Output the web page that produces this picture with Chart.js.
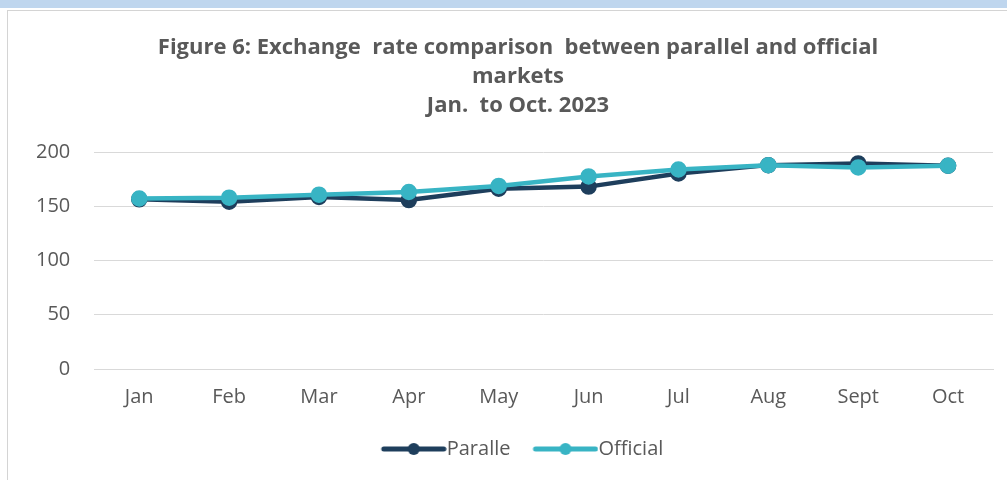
<!DOCTYPE html>
<html lang="en">
<head>
  <meta charset="UTF-8">
  <title>Exchange rate comparison</title>
  <script src="https://cdn.jsdelivr.net/npm/chart.js"></script>
  <style>
    html, body {
      margin: 0;
      padding: 0;
      width: 1007px;
      height: 480px;
      overflow: hidden;
      background: #fff;
      font-family: "Open Sans", sans-serif;
    }
    .band {
      position: absolute;
      left: 0; top: 0;
      width: 1007px; height: 8px;
      background: #bfd6ee;
    }
    .panel {
      position: absolute;
      left: 7px; top: 10px;
      width: 1030px; height: 480px;
      border-left: 1px solid #d4d4d4;
      border-top: 1px solid #d4d4d4;
    }
    .wrap {
      position: absolute;
      left: 8px; top: 11px;
      width: 1020px; height: 480px;
    }
  </style>
</head>
<body>
<div class="band"></div>
<div class="panel"></div>
<div class="wrap"><canvas id="rateChart"></canvas></div>

<script>
  const months = ['Jan', 'Feb', 'Mar', 'Apr', 'May', 'Jun', 'Jul', 'Aug', 'Sept', 'Oct'];
  const parallel = [156.5, 154.2, 158.6, 155.8, 166.2, 168.2, 180.3, 188.0, 189.6, 187.4];
  const official = [157.2, 158.0, 160.8, 163.2, 168.8, 177.6, 184.0, 188.0, 185.9, 187.4];
  const yTicks = [0, 50, 100, 150, 200];

  const navy = '#1e3e5c';
  const teal = '#38b4c4';
  const grey = '#595959';

  // legend marker: line with a dot, shifted right so it runs up to the text
  const MARK_W = 64, MARK_X = 10;
  function legendMarker(color) {
    const c = document.createElement('canvas');
    c.width = MARK_W + 2 * MARK_X; c.height = 14;
    const g = c.getContext('2d');
    const x0 = MARK_X + 11, x1 = c.width - 3;
    g.strokeStyle = color;
    g.fillStyle = color;
    g.lineWidth = 5;
    g.lineCap = 'round';
    g.beginPath();
    g.moveTo(x0, 7); g.lineTo(x1, 7);
    g.stroke();
    g.beginPath();
    g.arc((x0 + x1) / 2, 7, 6, 0, Math.PI * 2);
    g.fill();
    return c;
  }

  // title and legend are centred on the whole panel, not the padded area
  const centerBlocks = {
    id: 'centerBlocks',
    afterLayout(chart) {
      [chart.titleBlock, chart.legend].forEach(b => {
        if (b) { b.left = 0; b.right = chart.width; }
      });
    }
  };

  const ctx = document.getElementById('rateChart').getContext('2d');

  new Chart(ctx, {
    type: 'line',
    data: {
      labels: months,
      datasets: [
        {
          label: 'Paralle',
          data: parallel,
          borderColor: navy,
          backgroundColor: navy,
          borderWidth: 4.5,
          pointRadius: 6,
          pointHoverRadius: 6,
          tension: 0,
          order: 2
        },
        {
          label: 'Official',
          data: official,
          borderColor: teal,
          backgroundColor: teal,
          borderWidth: 4.5,
          pointRadius: 6,
          pointHoverRadius: 6,
          tension: 0,
          order: 1
        }
      ]
    },
    options: {
      responsive: true,
      maintainAspectRatio: false,
      animation: false,
      layout: { padding: { left: 4, right: 35, top: 0, bottom: 22 } },
      scales: {
        x: {
          offset: true,
          grid: { display: false, drawTicks: false },
          border: { display: true, color: '#d9d9d9', width: 1 },
          ticks: { color: grey, font: { family: 'Open Sans', size: 20 }, padding: 16 }
        },
        y: {
          min: 0,
          max: 200,
          afterBuildTicks: axis => { axis.ticks = yTicks.map(v => ({ value: v })); },
          grid: { color: '#d9d9d9', lineWidth: 1, drawTicks: false },
          border: { display: false },
          ticks: { color: grey, font: { family: 'Open Sans', size: 20 }, padding: 24 }
        }
      },
      plugins: {
        title: {
          display: true,
          text: [
            'Figure 6: Exchange  rate comparison  between parallel and official',
            'markets',
            'Jan.  to Oct. 2023'
          ],
          color: grey,
          font: { family: 'Open Sans', size: 22, weight: 'bold', lineHeight: 1.32 },
          padding: { top: 22, bottom: 32 }
        },
        legend: {
          position: 'bottom',
          labels: {
            color: grey,
            font: { family: 'Open Sans', size: 20 },
            usePointStyle: true,
            pointStyleWidth: MARK_W,
            boxHeight: 14,
            padding: 14,
            generateLabels: chart => chart.data.datasets.map((ds, i) => ({
              text: ds.label,
              pointStyle: legendMarker(ds.borderColor),
              fillStyle: ds.borderColor,
              strokeStyle: ds.borderColor,
              lineWidth: 0,
              fontColor: grey,
              hidden: false,
              datasetIndex: i
            }))
          }
        },
        tooltip: { enabled: false }
      }
    },
    plugins: [centerBlocks]
  });
</script>
</body>
</html>
